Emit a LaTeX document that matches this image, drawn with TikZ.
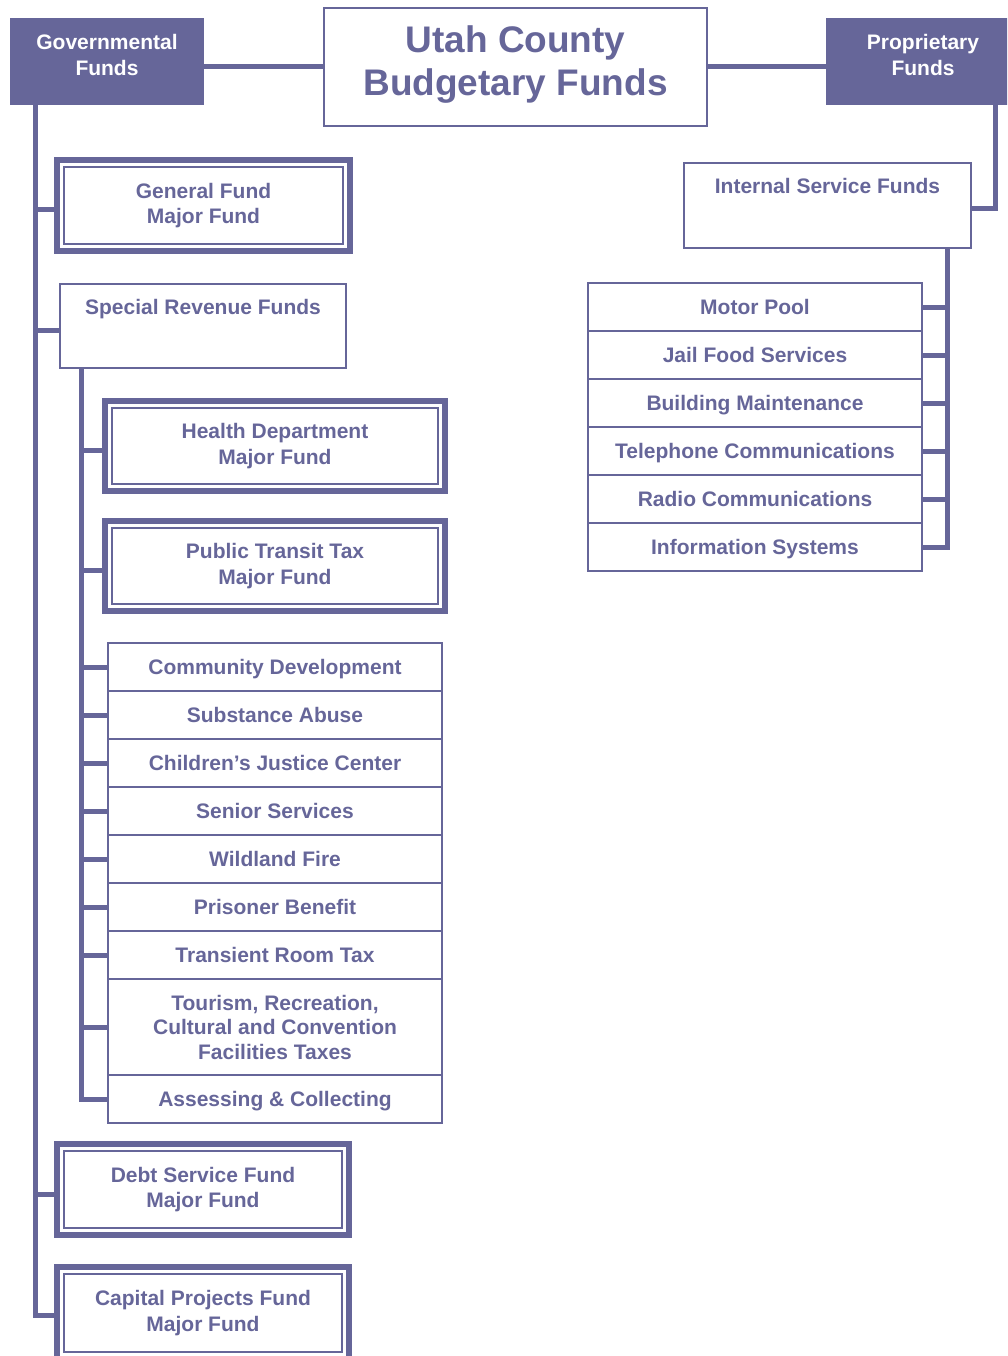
\documentclass[tikz,border=0pt]{standalone}
\usepackage{fontspec}
\setmainfont{Liberation Sans}
\definecolor{fc}{RGB}{102,102,153}
\newcommand\innerbox[1]{\draw[fc, line width=2pt] ([shift={(7,7)}]#1.north west) rectangle ([shift={(-7,-7)}]#1.south east);}
\begin{document}
\begin{tikzpicture}[x=1pt,y=-1pt,
  every node/.style={inner sep=0pt, outer sep=0pt, text=fc, align=center,
    font=\fontsize{21}{25.5}\selectfont\bfseries},
  head/.style n args={2}{fill=fc, minimum width=#1, minimum height=#2},
  hlbl/.style={anchor=center, text=white, yshift=6.5pt},
  wbox/.style n args={2}{draw=fc, line width=2pt, minimum width=#1, minimum height=#2},
  dbox/.style n args={2}{draw=fc, line width=6pt, minimum width=#1, minimum height=#2},
  lbox/.style={draw=fc, line width=2pt, minimum width=334pt, minimum height=48pt},
  lone/.style={lbox, text height=15.3pt, text depth=0pt},
  lbl/.style={anchor=north, yshift=-15pt},
  conn/.style={draw=fc, line width=5pt, line join=miter}]
\useasboundingbox (0,0) rectangle (1007,1356);
\clip (0,0) rectangle (1007,1356);

% header row
\node[head={194pt}{87pt}, label={[hlbl]center:Governmental\\Funds}] (gov) at (107,61.5) {};
\node[wbox={383pt}{118pt}, line width=2.5pt,
  label={[anchor=center, yshift=2pt, font=\fontsize{37}{43}\selectfont\bfseries]center:Utah County\\Budgetary Funds}] (title) at (515.5,67) {};
\node[head={194pt}{87pt}, label={[hlbl]center:Proprietary\\Funds}] (prop) at (923,61.5) {};
\draw[conn] (gov.east |- title.west) -- (title.west);
\draw[conn] (title.east) -- (prop.west |- title.east);

% governmental side
\node[dbox={293pt}{91pt}] (gf) at (203.5,205.5) {General Fund\\Major Fund};
\innerbox{gf}
\node[wbox={286pt}{84pt}, label={[lbl]north:Special Revenue Funds}] (srf) at (203,326) {};
\node[dbox={340pt}{90pt}] (hd) at (275,446) {Health Department\\Major Fund};
\innerbox{hd}
\node[dbox={340pt}{90pt}] (ptt) at (275,566) {Public Transit Tax\\Major Fund};
\innerbox{ptt}

\node[lone] (cd) at (275,667) {Community Development};
\node[lone] (sa) at (275,715) {Substance Abuse};
\node[lone] (cjc) at (275,763) {Children’s Justice Center};
\node[lone] (ss) at (275,811) {Senior Services};
\node[lone] (wf) at (275,859) {Wildland Fire};
\node[lone] (pb) at (275,907) {Prisoner Benefit};
\node[lone] (trt) at (275,955) {Transient Room Tax};
\node[lbox, minimum height=96pt, font=\fontsize{21}{24.5}\selectfont\bfseries] (trc) at (275,1027) {Tourism, Recreation,\\Cultural and Convention\\Facilities Taxes};
\node[lone] (ac) at (275,1099) {Assessing \& Collecting};

\node[dbox={292pt}{91pt}] (dsf) at (203,1189.5) {Debt Service Fund\\Major Fund};
\innerbox{dsf}
\node[dbox={292pt}{92pt}] (cpf) at (203,1313) {Capital Projects Fund\\Major Fund};
\innerbox{cpf}

\coordinate (gt) at ([xshift=25pt]gov.south west);
\draw[conn] (gt) |- ([yshift=-2pt]cpf.west);
\draw[conn] ([yshift=-4.5pt]gt |- gf.west) -- ([yshift=-4.5pt]gf.west);
\draw[conn] ([yshift=-4pt]gt |- srf.west) -- ([yshift=-4pt]srf.west);
\draw[conn] ([yshift=-4.5pt]gt |- dsf.west) -- ([yshift=-4.5pt]dsf.west);

\coordinate (st) at ([xshift=21pt]srf.south west);
\draw[conn] (st) |- (ac.west);
\draw[conn] ([yshift=-4pt]st |- hd.west) -- ([yshift=-4pt]hd.west);
\draw[conn] ([yshift=-4pt]st |- ptt.west) -- ([yshift=-4pt]ptt.west);
\foreach \n in {cd,sa,cjc,ss,wf,pb,trt,trc}
  \draw[conn] (st |- \n.west) -- (\n.west);

% proprietary side
\node[wbox={287pt}{85pt}, label={[lbl]north:Internal Service Funds}] (isf) at (827.5,205.5) {};
\coordinate (pt) at (995,105);
\draw[conn] (pt) |- ([yshift=-3pt]isf.east);

\node[lone] (mp) at (755,307) {Motor Pool};
\node[lone] (jfs) at (755,355) {Jail Food Services};
\node[lone] (bm) at (755,403) {Building Maintenance};
\node[lone] (tc) at (755,451) {Telephone Communications};
\node[lone] (rc) at (755,499) {Radio Communications};
\node[lone] (is) at (755,547) {Information Systems};

\coordinate (it) at ([xshift=-24pt]isf.south east);
\draw[conn] (it) |- (is.east);
\foreach \n in {mp,jfs,bm,tc,rc}
  \draw[conn] (it |- \n.east) -- (\n.east);
\end{tikzpicture}
\end{document}
